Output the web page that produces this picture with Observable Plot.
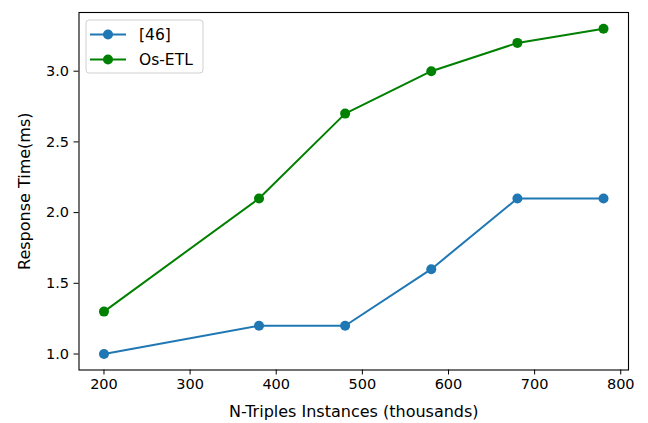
<!DOCTYPE html>
<html><head><meta charset="utf-8">
<script src="https://cdn.jsdelivr.net/npm/d3@7"></script>
<script src="https://cdn.jsdelivr.net/npm/@observablehq/plot@0.6"></script>
<style>body{margin:0;background:#fff}</style>
</head><body><div id="chart"></div>
<script>
const instances = [200, 380, 480, 580, 680, 780];
const ref46 = [1.0, 1.2, 1.2, 1.6, 2.1, 2.1];
const osEtl = [1.3, 2.1, 2.7, 3.0, 3.2, 3.3];
const seriesNames = ["[46]", "Os-ETL"];
const seriesColors = ["#1f77b4", "#008000"];
const xTicks = [200, 300, 400, 500, 600, 700, 800];
const yTicks = [1.0, 1.5, 2.0, 2.5, 3.0];
const xLabel = "N-Triples Instances (thousands)";
const yLabel = "Response Time(ms)";

const data = [
  ...instances.map((x, i) => ({x, y: ref46[i], s: seriesNames[0]})),
  ...instances.map((x, i) => ({x, y: osEtl[i], s: seriesNames[1]}))
];

const W = 648, H = 423, mL = 78.5, mR = 20, mT = 12, mB = 53.5;
const FS = 14.5, LFS = 16;
const chart = Plot.plot({
  width: W, height: H, marginLeft: mL, marginRight: mR, marginTop: mT, marginBottom: mB,
  style: {fontFamily: "DejaVu Sans", fontSize: FS + "px", background: "#fff", color: "#000"},
  x: {domain: [171, 809]},
  y: {domain: [0.887, 3.415]},
  color: {domain: seriesNames, range: seriesColors},
  marks: [
    Plot.axisX({ticks: xTicks, tickSize: 5, tickPadding: 4, label: null, tickFormat: d3.format("d")}),
    Plot.axisY({ticks: yTicks, tickSize: 5, tickPadding: 5, label: null, tickFormat: d3.format(".1f")}),
    Plot.line(data, {x: "x", y: "y", z: "s", stroke: "s", strokeWidth: 2}),
    Plot.dot(data, {x: "x", y: "y", fill: "s", r: 5}),
    Plot.frame({stroke: "#000", strokeWidth: 1.1}),
    Plot.text([xLabel], {text: d => d, frameAnchor: "bottom", dy: 41.5, fontSize: LFS,
      textAnchor: "middle", lineAnchor: "middle"}),
    Plot.text([yLabel], {text: d => d, frameAnchor: "left", dx: -54.5, rotate: -90, fontSize: LFS,
      textAnchor: "middle", lineAnchor: "middle"})
  ]
});
document.getElementById("chart").appendChild(chart);

// legend (matplotlib style, upper left)
const svg = d3.select(chart);
const lg = svg.append("g").attr("font-family", "DejaVu Sans").attr("font-size", 15.5).attr("text-anchor", "start");
lg.append("rect").attr("x", 86).attr("y", 20).attr("width", 117).attr("height", 53)
  .attr("rx", 3).attr("fill", "#fff").attr("fill-opacity", 0.8).attr("stroke", "#d0d0d0");
seriesNames.forEach((name, i) => {
  const yy = 34.5 + i * 25;
  lg.append("line").attr("x1", 90).attr("x2", 126).attr("y1", yy).attr("y2", yy)
    .attr("stroke", seriesColors[i]).attr("stroke-width", 2);
  lg.append("circle").attr("cx", 108).attr("cy", yy).attr("r", 5).attr("fill", seriesColors[i]);
  lg.append("text").attr("x", 139).attr("y", yy).attr("dy", "0.35em").attr("fill", "#000").text(name);
});
</script></body></html>
